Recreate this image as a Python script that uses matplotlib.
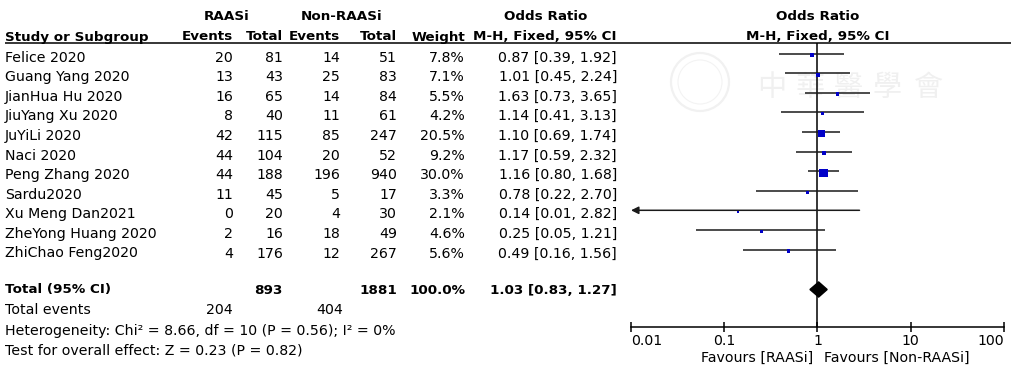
import numpy as np
import matplotlib
matplotlib.use("Agg")
import matplotlib.pyplot as plt
from matplotlib.patches import Polygon, Circle
from matplotlib.ticker import NullLocator

# ---------------- data ----------------
studies = ["Felice 2020", "Guang Yang 2020", "JianHua Hu 2020", "JiuYang Xu 2020",
           "JuYiLi 2020", "Naci 2020", "Peng Zhang 2020", "Sardu2020",
           "Xu Meng Dan2021", "ZheYong Huang 2020", "ZhiChao Feng2020"]
raasi_events = [20, 13, 16, 8, 42, 44, 44, 11, 0, 2, 4]
raasi_total = [81, 43, 65, 40, 115, 104, 188, 45, 20, 16, 176]
non_events = [14, 25, 14, 11, 85, 20, 196, 5, 4, 18, 12]
non_total = [51, 83, 84, 61, 247, 52, 940, 17, 30, 49, 267]
weights = [7.8, 7.1, 5.5, 4.2, 20.5, 9.2, 30.0, 3.3, 2.1, 4.6, 5.6]
or_est = [0.87, 1.01, 1.63, 1.14, 1.10, 1.17, 1.16, 0.78, 0.14, 0.25, 0.49]
ci_low = [0.39, 0.45, 0.73, 0.41, 0.69, 0.59, 0.80, 0.22, 0.01, 0.05, 0.16]
ci_high = [1.92, 2.24, 3.65, 3.13, 1.74, 2.32, 1.68, 2.70, 2.82, 1.21, 1.56]
total_raasi = 893
total_non = 1881
total_weight = 100.0
total_events_raasi = 204
total_events_non = 404
total_or, total_low, total_high = 1.03, 0.83, 1.27
heterogeneity = "Heterogeneity: Chi\u00b2 = 8.66, df = 10 (P = 0.56); I\u00b2 = 0%"
overall = "Test for overall effect: Z = 0.23 (P = 0.82)"
axis_ticks = [0.01, 0.1, 1, 10, 100]
axis_labels = ["0.01", "0.1", "1", "10", "100"]

# ---------------- layout (pixels) ----------------
W, H = 1012, 370
FS = 10.2     # regular text
FSB = 9.7     # bold text
plt.rcParams["font.family"] = ["DejaVu Sans"]

fig = plt.figure(figsize=(W / 100, H / 100), dpi=100)
ax0 = fig.add_axes([0, 0, 1, 1])
ax0.set_xlim(0, W)
ax0.set_ylim(H, 0)
ax0.axis("off")

x0_plot, x1_plot = 631, 1004
fax = fig.add_axes([x0_plot / W, 0, (x1_plot - x0_plot) / W, 1])
fax.set_xscale("log")
fax.set_xlim(axis_ticks[0], axis_ticks[-1])
fax.set_ylim(H, 0)
fax.patch.set_visible(False)

# watermark (very faint)
ax0.add_patch(Circle((700, 82), 29, fill=False, ec="#f1f1f1", lw=1.6, zorder=0))
ax0.add_patch(Circle((700, 82), 22, fill=False, ec="#f3f3f3", lw=0.8, zorder=0))
for ch, cx in zip("中華醫學會", [772, 810, 848, 887, 928]):
    ax0.text(cx, 88, ch, fontsize=21, color="#f0f0f0", ha="center", va="center",
             family=["Noto Sans CJK TC", "DejaVu Sans"], zorder=0)

# columns
c_ev1, c_tot1, c_ev2, c_tot2, c_w, c_or = 233, 283, 340, 397, 465, 617
row0, dy = 61.5, 19.6
hdr1, hdr2 = 20.5, 40.5
line_y = 43

def t(x, y, s, ha="left", bold=False, **kw):
    ax0.text(x, y, s, ha=ha, va="baseline", fontsize=FSB if bold else FS,
             fontweight="bold" if bold else "normal", color="black", **kw)

# headers
t(227, hdr1, "RAASi", "center", True)
t(342, hdr1, "Non-RAASi", "center", True)
t(546, hdr1, "Odds Ratio", "center", True)
t(5, hdr2, "Study or Subgroup", "left", True)
t(c_ev1, hdr2, "Events", "right", True)
t(c_tot1, hdr2, "Total", "right", True)
t(c_ev2, hdr2, "Events", "right", True)
t(c_tot2, hdr2, "Total", "right", True)
t(c_w, hdr2, "Weight", "right", True)
t(c_or, hdr2, "M-H, Fixed, 95% CI", "right", True)
fax.text(1, hdr1, "Odds Ratio", ha="center", va="baseline", fontsize=FSB, fontweight="bold")
fax.text(1, hdr2, "M-H, Fixed, 95% CI", ha="center", va="baseline", fontsize=FSB, fontweight="bold")
ax0.hlines(line_y, 5, W, color="black", lw=1.1)

# study rows
ys = []
for i, name in enumerate(studies):
    y = row0 + i * dy
    ys.append(y)
    t(5, y, name)
    t(c_ev1, y, str(raasi_events[i]), "right")
    t(c_tot1, y, str(raasi_total[i]), "right")
    t(c_ev2, y, str(non_events[i]), "right")
    t(c_tot2, y, str(non_total[i]), "right")
    t(c_w, y, f"{weights[i]:.1f}%", "right")
    t(c_or, y, f"{or_est[i]:.2f} [{ci_low[i]:.2f}, {ci_high[i]:.2f}]", "right")

# totals
y_tot = 293.5
t(5, y_tot, "Total (95% CI)", "left", True)
t(c_tot1, y_tot, str(total_raasi), "right", True)
t(c_tot2, y_tot, str(total_non), "right", True)
t(c_w, y_tot, f"{total_weight:.1f}%", "right", True)
t(c_or, y_tot, f"{total_or:.2f} [{total_low:.2f}, {total_high:.2f}]", "right", True)
t(5, 314, "Total events")
t(c_ev1, 314, str(total_events_raasi), "right")
t(c_ev2 + 3, 314, str(total_events_non), "right")
t(5, 334.5, heterogeneity)
t(5, 355, overall)

# forest plot
axis_y = 327
fax.vlines(1, line_y, axis_y, color="black", lw=1.1, zorder=2)
ci_col = "#1a1a1a"
sq_col = "#0000c8"
for i in range(len(studies)):
    yl = ys[i] - 8
    if ci_low[i] <= axis_ticks[0]:
        fax.annotate("", xy=(axis_ticks[0], yl), xytext=(ci_high[i], yl),
                     arrowprops=dict(arrowstyle="-|>", mutation_scale=11, lw=1.1,
                                     color=ci_col, shrinkA=0, shrinkB=0),
                     annotation_clip=False)
    else:
        fax.hlines(yl, ci_low[i], ci_high[i], color=ci_col, lw=1.1, zorder=2)
    side = max(2.6, 8.2 * np.sqrt(weights[i] / 30.0))
    fax.scatter([or_est[i]], [yl + 1.5], marker="s", s=(side * 0.72) ** 2,
                color=sq_col, edgecolors="none", zorder=3)

yd = 289.5
fax.add_patch(Polygon([(total_low, yd), (total_or, yd - 7.5), (total_high, yd),
                       (total_or, yd + 7.5)], closed=True, color="black", zorder=3))

# axis
for s in ["top", "left", "right"]:
    fax.spines[s].set_visible(False)
fax.spines["bottom"].set_position(("data", axis_y))
fax.spines["bottom"].set_linewidth(1.1)
fax.set_yticks([])
fax.xaxis.set_minor_locator(NullLocator())
fax.set_xticks(axis_ticks)
fax.set_xticklabels(axis_labels)
fax.tick_params(axis="x", direction="inout", length=7, width=1.1, pad=1.5,
                labelsize=FS, colors="black")
for lbl, ha in zip(fax.get_xticklabels(), ["left", "center", "center", "center", "right"]):
    lbl.set_horizontalalignment(ha)

t(813, 362, "Favours [RAASi]", "right")
t(824, 362, "Favours [Non-RAASi]", "left")

fig.savefig("out.png", dpi=100)
